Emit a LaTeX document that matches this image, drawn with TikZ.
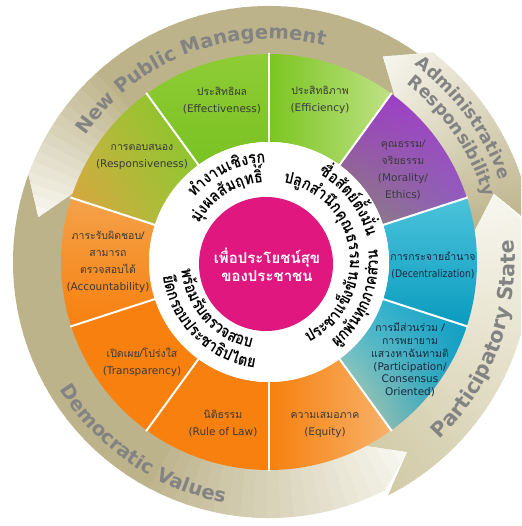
\documentclass[tikz,border=0pt]{standalone}
\usepackage{fontspec}
\usetikzlibrary{shadings}
\setmainfont{DejaVu Sans}
\newfontfamily\thai[Script=Thai]{Loma}
\newfontfamily\thaicurve[Script=Thai,FakeStretch=0.88]{Loma}
\definecolor{khaki}{HTML}{BDB38B}
\definecolor{khakiL}{HTML}{F8F7EF}
\definecolor{psA}{HTML}{D2CBA8}
\definecolor{ringtext}{HTML}{838383}
\definecolor{lblc}{HTML}{3A3A3A}
\definecolor{navy}{HTML}{1C2B40}
\definecolor{mag}{HTML}{E0177F}
\definecolor{moA}{HTML}{8A8470}\definecolor{moB}{HTML}{A040C8}\definecolor{moC}{HTML}{9B3DC6}\definecolor{moD}{HTML}{8E60C0}
\definecolor{efA}{HTML}{7BC520}\definecolor{efB}{HTML}{BEE285}
\definecolor{etA}{HTML}{8ECC36}\definecolor{etB}{HTML}{7AC222}
\definecolor{reA}{HTML}{80C425}\definecolor{reB}{HTML}{E0A040}\definecolor{reC}{HTML}{B5C03E}\definecolor{reD}{HTML}{9CC83A}
\definecolor{acA}{HTML}{F3A24A}\definecolor{acB}{HTML}{F8800F}
\definecolor{orA}{HTML}{F7800F}
\definecolor{eqA}{HTML}{F6800E}\definecolor{eqB}{HTML}{F7B26A}
\definecolor{paA}{HTML}{12A0C5}\definecolor{paB}{HTML}{D4CFA8}\definecolor{paC}{HTML}{3CB9D4}\definecolor{paD}{HTML}{0F9CC2}
\definecolor{deA}{HTML}{4CC3DB}\definecolor{deB}{HTML}{0A9BBF}
\newsavebox\clbox
\newdimen\arclen
\makeatletter
% curved text: #1 radius, #2 mid angle, #3 dir (-1 cw tops out, 1 ccw tops in), #4 font, #5 colour, #6 clusters
\newcommand\arctext[6]{%
  \global\arclen=0pt\relax
  \foreach \cl in {#6}{%
    \pgfinterruptpicture
      \sbox\clbox{#4\cl}\global\advance\arclen by \wd\clbox\relax
    \endpgfinterruptpicture}%
  \edef\arclenv{\strip@pt\arclen}%
  \pgfmathsetmacro\arctot{\arclenv/(#1)*57.29578}%
  \pgfmathsetmacro\arcstart{#2-(#3)*\arctot/2}%
  \global\let\arccur\arcstart
  \foreach \cl in {#6}{%
    \pgfinterruptpicture
      \sbox\clbox{#4\cl}\xdef\arcwdv{\strip@pt\wd\clbox}%
    \endpgfinterruptpicture
    \pgfmathsetmacro\arcda{\arcwdv/(#1)*57.29578}%
    \pgfmathsetmacro\arcmid{\arccur+(#3)*\arcda/2}%
    \pgfmathsetmacro\arcrot{\arcmid+(#3)*90}%
    \node[text=#5,font=#4,rotate=\arcrot,anchor=base,inner sep=0pt,outer sep=0pt] at (\arcmid:#1) {\cl};
    \pgfmathsetmacro\arcnext{\arccur+(#3)*\arcda}%
    \global\let\arccur\arcnext
  }%
}
\makeatother
% arrow band: #1 tail, #2 head base, #3 head length, #4 rin, #5 rout, #6 tail colour, #7 head colour, #8 start fraction
\newcommand\gradband[8]{%
  \begin{scope}
  \clip (#1:#4) arc[start angle=#1,end angle=#2,radius=#4] -- ({#2+#3}:235) -- (#2:#5) arc[start angle=#2,end angle=#1,radius=#5] -- ({#1+#3}:235) -- cycle;
  \foreach \k in {0,...,47}{%
    \pgfmathsetmacro\ga{#1+\k*(#2+#3-#1)/48}%
    \pgfmathsetmacro\gb{#1+(\k+1)*(#2+#3-#1)/48+0.4}%
    \pgfmathtruncatemacro\gp{100*max(0,(\k/47-#8)/(1-#8))}%
    \fill[#7!\gp!#6] (0,0) -- (\ga:300) arc[start angle=\ga,end angle=\gb,radius=300] -- cycle;
  }
  \end{scope}
}
\newcommand\segp[2]{(#1:120) arc[start angle=#1,end angle=#2,radius=120] -- (#2:208) arc[start angle=#2,end angle=#1,radius=208] -- cycle}
\newcommand\curvefont{\thaicurve\bfseries\fontsize{16.5}{17}\selectfont}
\tikzset{
  lbl/.style={align=center,text=lblc,inner sep=0pt,font={\fontsize{10.5}{17}\selectfont\lineskiplimit=-20pt}},
}
\begin{document}
\begin{tikzpicture}[x=1pt,y=1pt]
\clip (-269,-264) rectangle (252,262);
\fill[white] (-269,-264) rectangle (252,262);
% outer arrows
\gradband{297}{368}{9}{206}{262}{psA}{khakiL}{0}
\gradband{160}{297}{9}{206}{256}{khaki}{khakiL}{0.55}
\gradband{52}{160}{9}{206}{256}{khaki}{khakiL}{0.68}
\gradband{8}{52}{9}{206}{266}{khaki}{khakiL}{0}
% segments
\shade[lower left=moA,upper right=moB,upper left=moC,lower right=moD] \segp{18}{54};
\shade[left color=efA,right color=efB] \segp{54}{90};
\shade[top color=etA,bottom color=etB] \segp{90}{126};
\shade[upper right=reA,lower left=reB,upper left=reC,lower right=reD] \segp{126}{162};
\shade[top color=acA,bottom color=acB] \segp{162}{198};
\fill[orA] \segp{198}{234};
\fill[orA] \segp{234}{270};
\shade[left color=eqA,right color=eqB] \segp{270}{306};
\shade[upper right=paA,lower left=paB,upper left=paC,lower right=paD] \segp{306}{342};
\shade[top color=deA,bottom color=deB] \segp{342}{378};
\foreach \a in {18,54,...,342} \draw[white,line width=2] (\a:119) -- (\a:209);
\fill[white] (0,0) circle (120);
\node[circle,fill=mag,minimum size=134,inner sep=0pt] (hub) at (-3,-2) {};
\node[text=white,align=center,font={\thai\bfseries\fontsize{15}{18}\selectfont\lineskiplimit=-20pt}] (hubtext) at (-2,-3) {เพื่อประโยชน์สุข\\ของประชาชน};
% segment labels
\node[lbl] (effe) at (-47,162) {{\thai ประสิทธิผล}\\(Effectiveness)};
\node[lbl] (effi) at (51,162) {{\thai ประสิทธิภาพ}\\(Efficiency)};
\node[lbl] (resp) at (-127,105.5) {{\thai การตอบสนอง}\\(Responsiveness)};
\node[lbl] (mora) at (134,92) {{\thai คุณธรรม/}\\{\thai จริยธรรม}\\(Morality/\\Ethics)};
\node[lbl,text=navy] (dece) at (164,-3) {{\thai การกระจายอำนาจ}\\\scalebox{0.88}[1]{(Decentralization)}};
\node[lbl,text=navy,font={\fontsize{10.5}{12.8}\selectfont\lineskiplimit=-20pt}] (part) at (141,-98) {{\thai การมีส่วนร่วม /}\\{\thai การพยายาม}\\{\thai แสวงหาฉันทามติ}\\(Participation/\\Consensus\\Oriented)};
\node[lbl] (equi) at (56,-163) {{\thai ความเสมอภาค}\\(Equity)};
\node[lbl] (rule) at (-46,-161.5) {{\thai นิติธรรม}\\(Rule of Law)};
\node[lbl] (tran) at (-127,-100) {{\thai เปิดเผย/โปร่งใส}\\(Transparency)};
\node[lbl] (acco) at (-161,0.5) {{\thai ภาระรับผิดชอบ/}\\{\thai สามารถ}\\{\thai ตรวจสอบได้}\\(Accountability)};
% inner curved Thai text
\arctext{99}{115.5}{-1}{\curvefont}{black}{ท,ำ,ง,า,น,เ,ชิ,ง,รุ,ก}
\arctext{80}{122.5}{-1}{\curvefont}{black}{มุ่,ง,ผ,ล,สั,ม,ฤ,ท,ธิ์}
\arctext{101}{37.5}{-1}{\curvefont}{black}{ซื่,อ,สั,ต,ย์,ตั้,ง,มั่,น}
\arctext{81}{37.5}{-1}{\curvefont}{black}{ป,ลู,ก,ส,ำ,นึ,ก,คุ,ณ,ธ,ร,ร,ม}
\arctext{90}{-35.5}{1}{\curvefont}{black}{ป,ร,ะ,ช,า,แ,ข็,ง,ขั,น}
\arctext{109}{-22.5}{1}{\curvefont}{black}{ผู,ก,พั,น,ทุ,ก,ภ,า,ค,ส่,ว,น}
\arctext{88}{221.5}{1}{\curvefont}{black}{พ,ร้,อ,ม,รั,บ,ต,ร,ว,จ,ส,อ,บ}
\arctext{107}{225}{1}{\curvefont}{black}{ยึ,ด,ก,ร,อ,บ,ป,ร,ะ,ช,า,ธิ,ป,ไ,ต,ย}
% outer ring text
\arctext{223}{110.5}{-1}{\bfseries\fontsize{19.5}{20}\selectfont}{ringtext}{N,e,w,~,P,u,b,l,i,c,~,M,a,n,a,g,e,m,e,n,t}
\arctext{245}{36.5}{-1}{\bfseries\fontsize{17.5}{18}\selectfont}{ringtext}{A,d,m,i,n,i,s,t,r,a,t,i,v,e}
\arctext{225}{34.5}{-1}{\bfseries\fontsize{17.5}{18}\selectfont}{ringtext}{R,e,s,p,o,n,s,i,b,i,l,i,t,y}
\arctext{246}{-20.5}{1}{\bfseries\fontsize{20.5}{21}\selectfont}{ringtext}{P,a,r,t,i,c,i,p,a,t,o,r,y,~,S,t,a,t,e}
\arctext{245}{235.5}{1}{\bfseries\fontsize{19.5}{20}\selectfont}{ringtext}{D,e,m,o,c,r,a,t,i,c,~,V,a,l,u,e,s}
\end{tikzpicture}
\end{document}
